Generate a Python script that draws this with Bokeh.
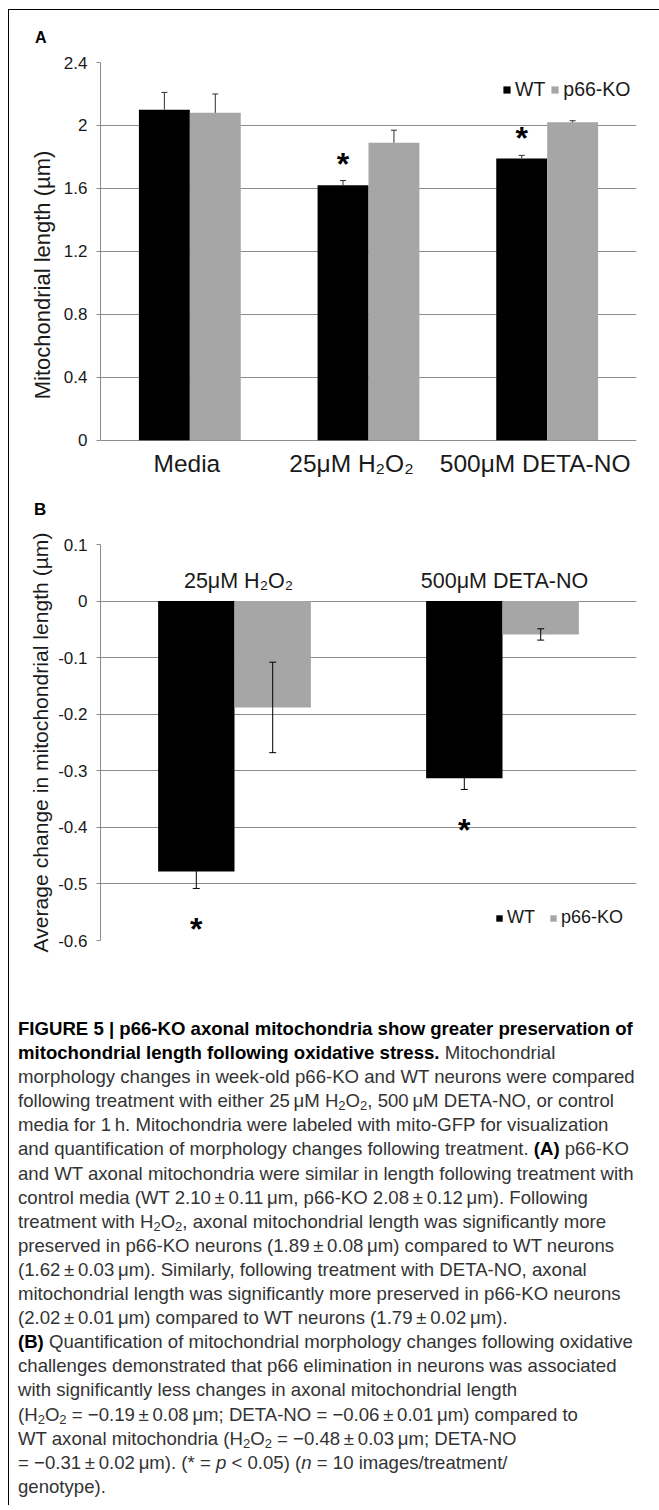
from bokeh.plotting import figure
from bokeh.models import (ColumnDataSource, FixedTicker, Legend, LegendItem,
                          Div, Range1d, FactorRange)
from bokeh.transform import dodge
from bokeh.layouts import column, row
from bokeh.embed import file_html
from bokeh.resources import INLINE
from bokeh.core.properties import value

# ---------------- data: panel A ----------------
a_categories = ["Media", "25\u03bcM H\u2082O\u2082", "500\u03bcM DETA-NO"]
a_wt = [2.10, 1.62, 1.79]
a_wt_err = [0.11, 0.03, 0.02]
a_ko = [2.08, 1.89, 2.02]
a_ko_err = [0.12, 0.08, 0.01]
a_wt_sig = [False, True, True]
a_ticks = [0, 0.4, 0.8, 1.2, 1.6, 2, 2.4]
a_tick_labels = ["0", "0.4", "0.8", "1.2", "1.6", "2", "2.4"]

# ---------------- data: panel B ----------------
b_categories = ["25\u03bcM H\u2082O\u2082", "500\u03bcM DETA-NO"]
b_wt = [-0.478, -0.313]
b_wt_err = [0.03, 0.02]
b_ko = [-0.188, -0.059]
b_ko_err = [0.08, 0.01]
b_wt_sig = [True, True]
b_ticks = [-0.6, -0.5, -0.4, -0.3, -0.2, -0.1, 0, 0.1]
b_tick_labels = ["-0.6", "-0.5", "-0.4", "-0.3", "-0.2", "-0.1", "0", "0.1"]

series_names = ["WT", "p66-KO"]
panel_letters = ["A", "B"]

caption_lines = [
    "<b>FIGURE 5 | p66-KO axonal mitochondria show greater preservation of</b>",
    "<b>mitochondrial length following oxidative stress.</b> Mitochondrial",
    "morphology changes in week-old p66-KO and WT neurons were compared",
    "following treatment with either 25\u2009\u03bcM H<sub>2</sub>O<sub>2</sub>, 500\u2009\u03bcM DETA-NO, or control",
    "media for 1\u2009h. Mitochondria were labeled with mito-GFP for visualization",
    "and quantification of morphology changes following treatment. <b>(A)</b> p66-KO",
    "and WT axonal mitochondria were similar in length following treatment with",
    "control media (WT 2.10\u2009\u00b1\u20090.11\u2009\u03bcm, p66-KO 2.08\u2009\u00b1\u20090.12\u2009\u03bcm). Following",
    "treatment with H<sub>2</sub>O<sub>2</sub>, axonal mitochondrial length was significantly more",
    "preserved in p66-KO neurons (1.89\u2009\u00b1\u20090.08\u2009\u03bcm) compared to WT neurons",
    "(1.62\u2009\u00b1\u20090.03\u2009\u03bcm). Similarly, following treatment with DETA-NO, axonal",
    "mitochondrial length was significantly more preserved in p66-KO neurons",
    "(2.02\u2009\u00b1\u20090.01\u2009\u03bcm) compared to WT neurons (1.79\u2009\u00b1\u20090.02\u2009\u03bcm).",
    "<b>(B)</b> Quantification of mitochondrial morphology changes following oxidative",
    "challenges demonstrated that p66 elimination in neurons was associated",
    "with significantly less changes in axonal mitochondrial length",
    "(H<sub>2</sub>O<sub>2</sub> = \u22120.19\u2009\u00b1\u20090.08\u2009\u03bcm; DETA-NO = \u22120.06\u2009\u00b1\u20090.01\u2009\u03bcm) compared to",
    "WT axonal mitochondria (H<sub>2</sub>O<sub>2</sub> = \u22120.48\u2009\u00b1\u20090.03\u2009\u03bcm; DETA-NO",
    "= \u22120.31\u2009\u00b1\u20090.02\u2009\u03bcm). (* = <i>p</i> &lt; 0.05) (<i>n</i> = 10 images/treatment/",
    "genotype).",
]

FONT = "Liberation Sans"
BLACK = "#000000"
GRAY = "#a6a6a6"
GRID = "#8c8c8c"
TXT = "#1a1a1a"
HALF = 0.1425


def tick_overrides(ticks, labels):
    return {(int(t) if float(t).is_integer() else t): lab for t, lab in zip(ticks, labels)}


def style_common(p, ticks, labels, title, title_size, title_standoff):
    p.outline_line_color = None
    p.background_fill_color = "white"
    p.border_fill_color = "white"
    p.xaxis.visible = False
    p.xgrid.visible = False
    ax = p.yaxis[0]
    ax.ticker = FixedTicker(ticks=ticks)
    ax.bounds = (min(ticks), max(ticks))
    ax.major_label_overrides = tick_overrides(ticks, labels)
    ax.axis_line_color = GRID
    ax.axis_line_width = 1
    ax.major_tick_line_color = GRID
    ax.major_tick_out = 4
    ax.major_tick_in = 0
    ax.minor_tick_line_color = None
    ax.major_label_text_font = FONT
    ax.major_label_text_font_size = "17px"
    ax.major_label_text_color = TXT
    ax.major_label_standoff = 9
    ax.axis_label = title
    ax.axis_label_text_font = FONT
    ax.axis_label_text_font_size = title_size
    ax.axis_label_text_font_style = "normal"
    ax.axis_label_text_color = TXT
    ax.axis_label_standoff = title_standoff
    p.ygrid.ticker = FixedTicker(ticks=ticks)
    p.ygrid.grid_line_color = GRID
    p.ygrid.grid_line_width = 1


# ================= Panel A =================
pA = figure(width=650, height=441, x_range=FactorRange(factors=a_categories),
            y_range=Range1d(-0.3, 2.4), output_backend="svg", toolbar_location=None,
            title=None,
            min_border_left=91, min_border_right=23, min_border_top=14, min_border_bottom=2)
style_common(pA, a_ticks, a_tick_labels, "Mitochondrial length (\u00b5m)", "22px", 6)

srcA = ColumnDataSource(dict(
    cat=a_categories, wt=a_wt, ko=a_ko,
    wt_up=[v + e for v, e in zip(a_wt, a_wt_err)],
    ko_up=[v + e for v, e in zip(a_ko, a_ko_err)],
))
xwA = dodge("cat", -HALF, range=pA.x_range)
xkA = dodge("cat", HALF, range=pA.x_range)
rA_wt = pA.vbar(x=xwA, top="wt", bottom=0, width=2 * HALF, source=srcA,
                fill_color=BLACK, line_color=None)
rA_ko = pA.vbar(x=xkA, top="ko", bottom=0, width=2 * HALF, source=srcA,
                fill_color=GRAY, line_color=None)
ERR_A = "#303030"
pA.segment(x0=xwA, y0="wt", x1=xwA, y1="wt_up", source=srcA, line_color=ERR_A, line_width=1)
pA.segment(x0=xkA, y0="ko", x1=xkA, y1="ko_up", source=srcA, line_color=ERR_A, line_width=1)
pA.scatter(x=xwA, y="wt_up", marker="dash", size=6, source=srcA, line_color=ERR_A, line_width=1)
pA.scatter(x=xkA, y="ko_up", marker="dash", size=6, source=srcA, line_color=ERR_A, line_width=1)

sigA = ColumnDataSource(dict(
    cat=[c for c, s in zip(a_categories, a_wt_sig) if s],
    y=[v + e for v, e, s in zip(a_wt, a_wt_err, a_wt_sig) if s],
    star=["*" for s in a_wt_sig if s],
))
pA.text(x=dodge("cat", -HALF, range=pA.x_range), y="y", text="star", source=sigA,
        text_font=value(FONT), text_font_size="32px", text_font_style="bold",
        text_align="center", text_baseline="alphabetic", y_offset=-17, text_color=BLACK)

labA = ColumnDataSource(dict(cat=a_categories, zero=[0] * len(a_categories),
                             xoff=[-3, -17, -12]))
pA.text(x="cat", y="zero", text="cat", x_offset="xoff", y_offset=23, source=labA,
        text_font=value(FONT), text_font_size="24.5px", text_align="center",
        text_baseline="alphabetic", text_color=TXT)

legA = Legend(items=[LegendItem(label=series_names[0], renderers=[rA_wt]),
                     LegendItem(label=series_names[1], renderers=[rA_ko])],
              orientation="horizontal", location=(402, 386), glyph_width=9, glyph_height=9,
              label_standoff=4, spacing=5, padding=0, margin=0, border_line_color=None,
              background_fill_alpha=0, label_text_font=FONT, label_text_font_size="19.5px",
              label_text_color=TXT)
pA.add_layout(legA)

# ================= Panel B =================
pB = figure(width=650, height=486, x_range=FactorRange(factors=b_categories),
            y_range=Range1d(-0.6, 0.1), output_backend="svg", toolbar_location=None,
            title=None,
            min_border_left=91, min_border_right=22, min_border_top=25, min_border_bottom=65)
style_common(pB, b_ticks, b_tick_labels, "Average change in mitochondrial length (\u00b5m)",
             "21.1px", 3)

srcB = ColumnDataSource(dict(
    cat=b_categories, wt=b_wt, ko=b_ko,
    wt_lo=[v - e for v, e in zip(b_wt, b_wt_err)],
    wt_hi=[v + e for v, e in zip(b_wt, b_wt_err)],
    ko_lo=[v - e for v, e in zip(b_ko, b_ko_err)],
    ko_hi=[v + e for v, e in zip(b_ko, b_ko_err)],
))
xwB = dodge("cat", -HALF, range=pB.x_range)
xkB = dodge("cat", HALF, range=pB.x_range)
rB_wt = pB.vbar(x=xwB, top=0, bottom="wt", width=2 * HALF, source=srcB,
                fill_color=BLACK, line_color=None)
rB_ko = pB.vbar(x=xkB, top=0, bottom="ko", width=2 * HALF, source=srcB,
                fill_color=GRAY, line_color=None)
for xx, lo, hi in [(xwB, "wt_lo", "wt_hi"), (xkB, "ko_lo", "ko_hi")]:
    pB.segment(x0=xx, y0=lo, x1=xx, y1=hi, source=srcB, line_color=BLACK, line_width=1)
    pB.scatter(x=xx, y=lo, marker="dash", size=7, source=srcB, line_color=BLACK, line_width=1)
    pB.scatter(x=xx, y=hi, marker="dash", size=7, source=srcB, line_color=BLACK, line_width=1)

sigB = ColumnDataSource(dict(
    cat=[c for c, s in zip(b_categories, b_wt_sig) if s],
    y=[v - e for v, e, s in zip(b_wt, b_wt_err, b_wt_sig) if s],
    star=["*" for s in b_wt_sig if s],
))
pB.text(x=dodge("cat", -HALF, range=pB.x_range), y="y", text="star", source=sigB,
        text_font=value(FONT), text_font_size="32px", text_font_style="bold",
        text_align="center", text_baseline="alphabetic", y_offset=41, text_color=BLACK)

labB = ColumnDataSource(dict(cat=b_categories, zero=[0] * len(b_categories), xoff=[4, 2]))
pB.text(x="cat", y="zero", text="cat", x_offset="xoff", y_offset=-20, source=labB,
        text_font=value(FONT), text_font_size="21.5px", text_align="center",
        text_baseline="alphabetic", text_color=TXT)

legB = Legend(items=[LegendItem(label=series_names[0], renderers=[rB_wt]),
                     LegendItem(label=series_names[1], renderers=[rB_ko])],
              orientation="horizontal", location=(395, 12), glyph_width=8, glyph_height=8,
              label_standoff=4, spacing=14, padding=0, margin=0, border_line_color=None,
              background_fill_alpha=0, label_text_font=FONT, label_text_font_size="18px",
              label_text_color=TXT)
pB.add_layout(legB)

# ================= Caption =================
cap_html = (
    '<div style="box-sizing:border-box;width:650px;'
    'padding:12px 0 0 9px;font-family:\'Liberation Sans\',sans-serif;font-size:18.6px;'
    'line-height:24.1px;color:#333333;white-space:nowrap;">'
    + "<br>".join(
        l.replace("<b>", '<b style="color:#000;">').replace(
            "<sub>", '<sub style="font-size:70%;line-height:0;vertical-align:-0.25em;">')
        for l in caption_lines)
    + "</div>"
)
cap = Div(text=cap_html, width=650, height=500, margin=0)

# frame lines (top and left) and the panel letters
top_div = Div(text=(
    '<div style="position:relative;width:659px;height:48px;overflow:hidden;">'
    '<div style="position:absolute;left:8px;top:9px;width:651px;height:1px;background:#000;"></div>'
    '<div style="position:absolute;left:8px;top:9px;width:1px;height:39px;background:#000;"></div>'
    '<div style="position:absolute;left:35px;top:29.5px;font:bold 16px/16px \'Liberation Sans\';'
    'color:#000;">' + panel_letters[0] + '</div></div>'), width=659, height=48, margin=0)
b_div = Div(text=(
    '<div style="position:relative;width:650px;height:30px;">'
    '<div style="position:absolute;left:25px;top:11.6px;font:bold 17px/17px \'Liberation Sans\';'
    'color:#000;">' + panel_letters[1] + '</div></div>'), width=650, height=30, margin=0)
left_line = Div(text='<div style="padding:0 0 0 8px;"><div style="width:1px;height:1457px;'
                     'background:#000;"></div></div>', width=9, height=1457, margin=0)

layout = column(top_div,
                row(left_line, column(pA, b_div, pB, cap, spacing=0), spacing=0),
                spacing=0)

open("out.html", "w").write(file_html(layout, INLINE))
